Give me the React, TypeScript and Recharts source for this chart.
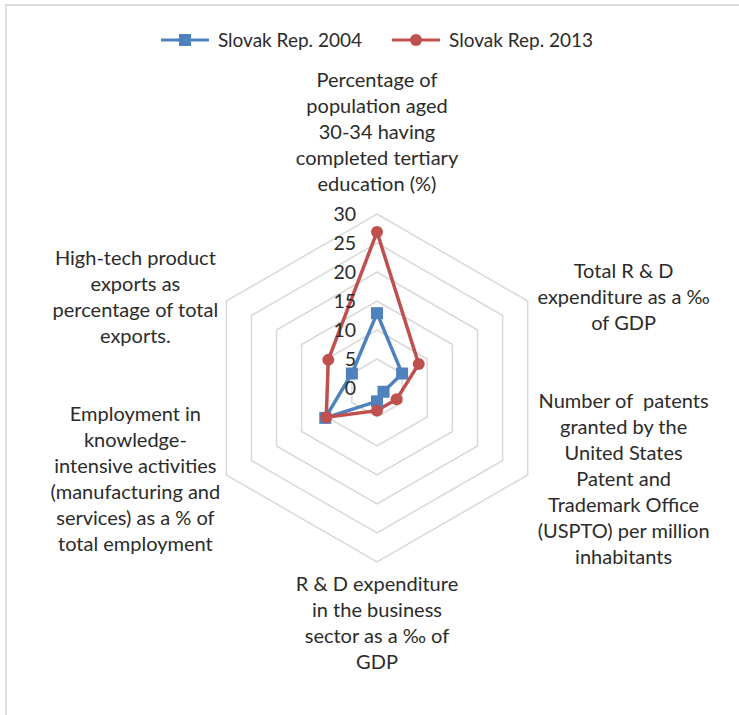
import React from 'react';
import { RadarChart, Radar, PolarGrid, PolarAngleAxis, PolarRadiusAxis } from 'recharts';

// indicator names, clockwise from the top spoke ("\n" = line break in the label)
const categories = [
  'Percentage of\npopulation aged\n30-34 having\ncompleted tertiary\neducation (%)',
  'Total R & D\nexpenditure as a ‰\nof GDP',
  'Number of  patents\ngranted by the\nUnited States\nPatent and\nTrademark Office\n(USPTO) per million\ninhabitants',
  'R & D expenditure\nin the business\nsector as a ‰ of\nGDP',
  'Employment in\nknowledge-\nintensive activities\n(manufacturing and\nservices) as a % of\ntotal employment',
  'High-tech product\nexports as\npercentage of total\nexports.',
];

const slovak2004 = [12.9, 5.0, 1.3, 2.3, 10.3, 5.0];
const slovak2013 = [26.9, 8.3, 3.9, 3.9, 10.1, 9.7];

const seriesNames = ['Slovak Rep. 2004', 'Slovak Rep. 2013'];
const radiusTicks = [0, 5, 10, 15, 20, 25, 30];

const data = categories.map((name, i) => ({
  name,
  s2004: slovak2004[i],
  s2013: slovak2013[i],
}));

const BLUE = '#4f81bd';
const RED = '#c0504d';
const TEXT = '#2b2b2b';
const FONT = 'Lato, "Open Sans", sans-serif';
const CX = 377;
const CY = 388;
const LINE_H = 26;

const AngleTick = (props: any) => {
  const { x, y, payload } = props;
  const lines = String(payload.value).split('\n');
  const n = lines.length;
  let tx = x;
  let firstY: number;
  if (Math.abs(x - CX) < 5) {
    firstY = y < CY ? y - 22 - (n - 1) * LINE_H : y + 14;
  } else {
    tx = x > CX ? x + 89 : x - 84;
    firstY = y - ((n - 1) / 2) * LINE_H;
  }
  return (
    <g>
      {lines.map((line, i) => (
        <text
          key={i}
          x={tx}
          y={firstY + i * LINE_H}
          dy="0.35em"
          textAnchor="middle"
          fill={TEXT}
          fontSize={20}
          fontFamily={FONT}
          style={{ whiteSpace: 'pre' }}
        >
          {line}
        </text>
      ))}
    </g>
  );
};

const RadiusTick = (props: any) => {
  const { x, y, payload } = props;
  return (
    <text x={x - 21} y={y} dy="0.35em" textAnchor="end" fill={TEXT} fontSize={19.5} fontFamily={FONT}>
      {payload.value}
    </text>
  );
};

const SquareDot = (props: any) => {
  const { cx, cy } = props;
  return <rect x={cx - 6} y={cy - 6} width={12} height={12} fill={BLUE} />;
};

const CircleDot = (props: any) => {
  const { cx, cy } = props;
  return <circle cx={cx} cy={cy} r={6} fill={RED} />;
};

const LegendIcon = ({ color, square }: { color: string; square: boolean }) => (
  <svg width={48} height={14} style={{ display: 'block' }}>
    <line x1={0} y1={7} x2={48} y2={7} stroke={color} strokeWidth={3} />
    {square ? <rect x={18} y={1} width={12} height={12} fill={color} /> : <circle cx={24} cy={7} r={6} fill={color} />}
  </svg>
);

export default function App() {
  return (
    <div style={{ position: 'absolute', left: 0, top: 0, width: 739, height: 715, overflow: 'hidden', background: '#fff' }}>
      <div
        style={{
          position: 'absolute',
          left: 5,
          top: 4,
          width: 780,
          height: 780,
          borderTop: '2px solid #dedede',
          borderLeft: '2px solid #dedede',
        }}
      />
      <div
        style={{
          position: 'absolute',
          left: 0,
          top: 28,
          width: 754,
          display: 'flex',
          justifyContent: 'center',
          alignItems: 'center',
          gap: 30,
          fontFamily: FONT,
          fontSize: 19,
          color: TEXT,
        }}
      >
        {seriesNames.map((name, i) => (
          <div key={name} style={{ display: 'flex', alignItems: 'center', gap: 9 }}>
            <LegendIcon color={i === 0 ? BLUE : RED} square={i === 0} />
            <span>{name}</span>
          </div>
        ))}
      </div>
      <div style={{ position: 'absolute', left: 0, top: 0 }}>
        <RadarChart
          width={739}
          height={715}
          cx={CX}
          cy={CY}
          outerRadius={174}
          data={data}
          margin={{ top: 0, right: 0, bottom: 0, left: 0 }}
        >
          <PolarGrid gridType="polygon" radialLines={false} stroke="#d9d9d9" strokeWidth={1.5} />
          <PolarAngleAxis dataKey="name" tick={<AngleTick />} tickLine={false} axisLine={false} />
          <PolarRadiusAxis
            angle={90}
            domain={[0, 30]}
            ticks={radiusTicks as any}
            tickCount={7}
            axisLine={false}
            tick={<RadiusTick />}
          />
          <Radar
            name={seriesNames[0]}
            dataKey="s2004"
            stroke={BLUE}
            strokeWidth={3.5}
            fill="none"
            fillOpacity={0}
            dot={SquareDot}
            isAnimationActive={false}
          />
          <Radar
            name={seriesNames[1]}
            dataKey="s2013"
            stroke={RED}
            strokeWidth={3.5}
            fill="none"
            fillOpacity={0}
            dot={CircleDot}
            isAnimationActive={false}
          />
        </RadarChart>
      </div>
    </div>
  );
}
